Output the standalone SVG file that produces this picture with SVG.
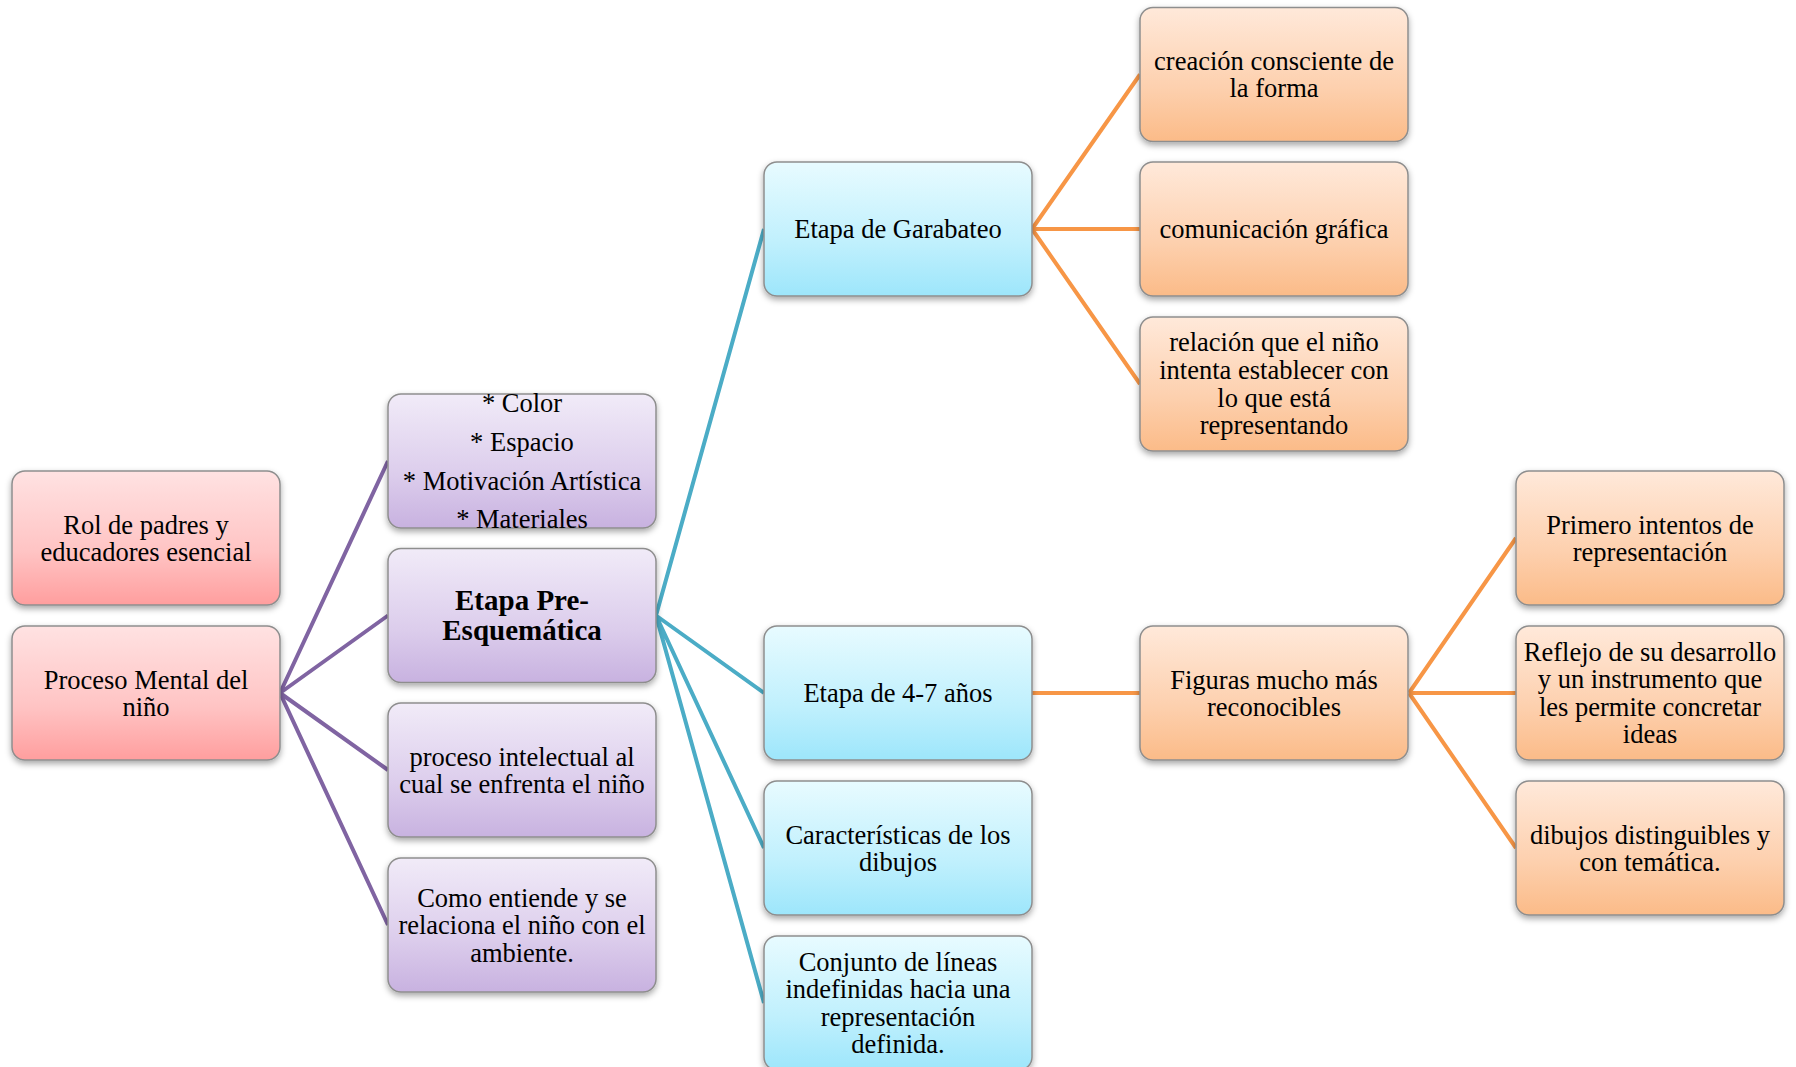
<svg xmlns="http://www.w3.org/2000/svg" width="1796" height="1067" viewBox="0 0 1796 1067">
<defs>
<linearGradient id="gPink" x1="0" y1="0" x2="0" y2="1"><stop offset="0" stop-color="#ffe2e2"/><stop offset="0.6" stop-color="#ffc4c4"/><stop offset="1" stop-color="#ff9e9e"/></linearGradient>
<linearGradient id="gPurple" x1="0" y1="0" x2="0" y2="1"><stop offset="0" stop-color="#f1ebf8"/><stop offset="0.6" stop-color="#dccdec"/><stop offset="1" stop-color="#c8b2e0"/></linearGradient>
<linearGradient id="gBlue" x1="0" y1="0" x2="0" y2="1"><stop offset="0" stop-color="#e8fbff"/><stop offset="0.6" stop-color="#c0f0fd"/><stop offset="1" stop-color="#9de6fb"/></linearGradient>
<linearGradient id="gOrange" x1="0" y1="0" x2="0" y2="1"><stop offset="0" stop-color="#ffe9da"/><stop offset="0.6" stop-color="#fdd0ae"/><stop offset="1" stop-color="#fbbb88"/></linearGradient>
<filter id="sh" x="-10%" y="-10%" width="120%" height="130%"><feDropShadow dx="0" dy="3" stdDeviation="3" flood-color="#000" flood-opacity="0.35"/></filter>
</defs>
<style>
.box{stroke:#8e8e8e;stroke-width:1.5;filter:url(#sh)}
.pink{fill:url(#gPink)}
.purple{fill:url(#gPurple)}
.blue{fill:url(#gBlue)}
.orange{fill:url(#gOrange)}
text{font-family:"Liberation Serif","Times New Roman",serif;font-size:26.5px;fill:#000;text-anchor:middle}
.b{font-weight:bold;font-size:29px}
.cp{stroke:#8064a2;stroke-width:4;fill:none}
.cb{stroke:#4bacc6;stroke-width:4;fill:none}
.co{stroke:#f79646;stroke-width:4;fill:none}
</style>
<g id="connectors">
<path class="cp" d="M280 693 L388 461 M280 693 L388 615.5 M280 693 L388 770 M280 693 L388 925"/>
<path class="cb" d="M656 615.5 L764 229 M656 615.5 L764 693 M656 615.5 L764 848 M656 615.5 L764 1003"/>
<path class="co" d="M1032 229 L1140 74.5 M1032 229 L1140 229 M1032 229 L1140 384"/>
<path class="co" d="M1032 693 L1140 693"/>
<path class="co" d="M1409 693 L1516 538 M1409 693 L1516 693 M1409 693 L1516 848"/>
</g>
<g id="n-rol"><rect class="box pink" x="12" y="471" width="268" height="134" rx="13"/><text x="146" y="534">Rol de padres y</text><text x="146" y="561">educadores esencial</text></g>
<g id="n-proceso"><rect class="box pink" x="12" y="626" width="268" height="134" rx="13"/><text x="146" y="688.5">Proceso Mental del</text><text x="146" y="715.5">niño</text></g>
<g id="n-lista"><rect class="box purple" x="388" y="394" width="268" height="134" rx="13"/><text x="522" y="412">* Color</text><text x="522" y="451">* Espacio</text><text x="522" y="489.5">* Motivación Artística</text><text x="522" y="527.5">* Materiales</text></g>
<g id="n-pre"><rect class="box purple" x="388" y="548.5" width="268" height="134" rx="13"/><text class="b" x="522" y="610">Etapa Pre-</text><text class="b" x="522" y="640">Esquemática</text></g>
<g id="n-intelectual"><rect class="box purple" x="388" y="703" width="268" height="134" rx="13"/><text x="522" y="765.5">proceso intelectual al</text><text x="522" y="792.5">cual se enfrenta el niño</text></g>
<g id="n-como"><rect class="box purple" x="388" y="858" width="268" height="134" rx="13"/><text x="522" y="906.5">Como entiende y se</text><text x="522" y="934">relaciona el niño con el</text><text x="522" y="961.5">ambiente.</text></g>
<g id="n-garabateo"><rect class="box blue" x="764" y="162" width="268" height="134" rx="13"/><text x="898" y="237.5">Etapa de Garabateo</text></g>
<g id="n-47"><rect class="box blue" x="764" y="626" width="268" height="134" rx="13"/><text x="898" y="701.5">Etapa de 4-7 años</text></g>
<g id="n-caracteristicas"><rect class="box blue" x="764" y="781" width="268" height="134" rx="13"/><text x="898" y="843.5">Características de los</text><text x="898" y="870.5">dibujos</text></g>
<g id="n-conjunto"><rect class="box blue" x="764" y="936" width="268" height="134" rx="13"/><text x="898" y="970.5">Conjunto de líneas</text><text x="898" y="998">indefinidas hacia una</text><text x="898" y="1025.5">representación</text><text x="898" y="1053">definida.</text></g>
<g id="n-creacion"><rect class="box orange" x="1140" y="7.5" width="268" height="134" rx="13"/><text x="1274" y="70">creación consciente de</text><text x="1274" y="97">la forma</text></g>
<g id="n-comunicacion"><rect class="box orange" x="1140" y="162" width="268" height="134" rx="13"/><text x="1274" y="237.5">comunicación gráfica</text></g>
<g id="n-relacion"><rect class="box orange" x="1140" y="317" width="268" height="134" rx="13"/><text x="1274" y="350.5">relación que el niño</text><text x="1274" y="378.5">intenta establecer con</text><text x="1274" y="406.5">lo que está</text><text x="1274" y="434">representando</text></g>
<g id="n-figuras"><rect class="box orange" x="1140" y="626" width="268" height="134" rx="13"/><text x="1274" y="688.5">Figuras mucho más</text><text x="1274" y="715.5">reconocibles</text></g>
<g id="n-primero"><rect class="box orange" x="1516" y="471" width="268" height="134" rx="13"/><text x="1650" y="534">Primero intentos de</text><text x="1650" y="561">representación</text></g>
<g id="n-reflejo"><rect class="box orange" x="1516" y="626" width="268" height="134" rx="13"/><text x="1650" y="660.5">Reflejo de su desarrollo</text><text x="1650" y="688">y un instrumento que</text><text x="1650" y="715.5">les permite concretar</text><text x="1650" y="743">ideas</text></g>
<g id="n-dibujos"><rect class="box orange" x="1516" y="781" width="268" height="134" rx="13"/><text x="1650" y="843.5">dibujos distinguibles y</text><text x="1650" y="870.5">con temática.</text></g>
</svg>
